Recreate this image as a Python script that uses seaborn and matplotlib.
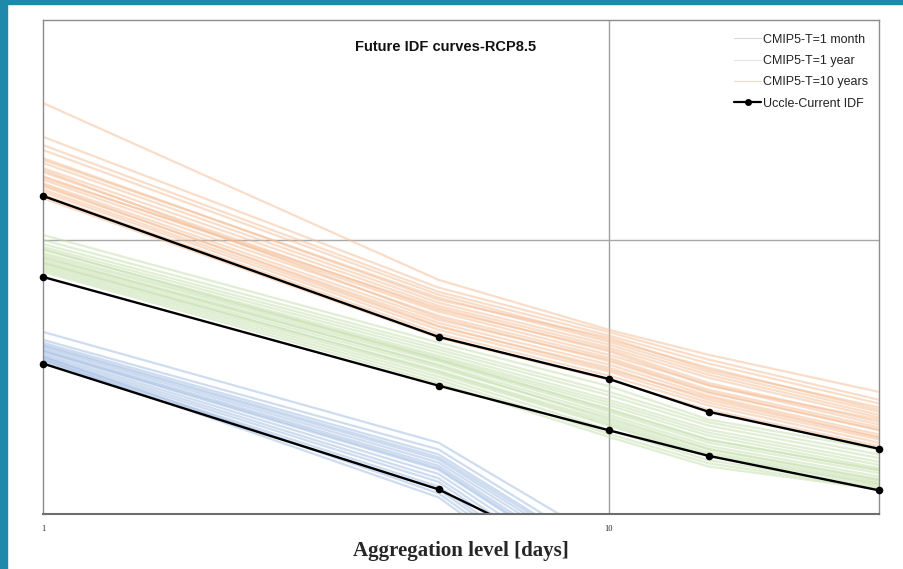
import pandas as pd
import matplotlib.pyplot as plt
import seaborn as sns
from matplotlib.lines import Line2D
from matplotlib.patches import Rectangle

# Aggregation levels (days)
durations = [1, 5, 10, 15, 30]

# Uccle current IDF (intensity)
uccle_1m = [0.354, 0.123, 0.0614, 0.045, 0.024]
uccle_1y = [0.733, 0.294, 0.202, 0.163, 0.122]
uccle_10y = [1.448, 0.443, 0.311, 0.236, 0.173]

# CMIP5 members, T = 10 years
cmip_10y = [
    [3.16, 0.715, 0.470, 0.381, 0.279],
    [2.38, 0.670, 0.461, 0.366, 0.261],
    [2.22, 0.647, 0.448, 0.354, 0.253],
    [2.13, 0.631, 0.432, 0.342, 0.240],
    [1.99, 0.605, 0.440, 0.336, 0.245],
    [1.91, 0.590, 0.415, 0.322, 0.230],
    [1.83, 0.575, 0.405, 0.314, 0.225],
    [1.77, 0.556, 0.398, 0.301, 0.217],
    [1.71, 0.547, 0.381, 0.296, 0.212],
    [1.66, 0.529, 0.372, 0.284, 0.207],
    [1.61, 0.511, 0.366, 0.279, 0.202],
    [1.57, 0.498, 0.351, 0.270, 0.195],
    [1.53, 0.482, 0.342, 0.261, 0.190],
    [1.50, 0.470, 0.331, 0.255, 0.187],
    [1.46, 0.455, 0.320, 0.249, 0.182],
    [1.42, 0.440, 0.309, 0.240, 0.177],
    [1.80, 0.520, 0.361, 0.277, 0.203],
    [1.69, 0.565, 0.392, 0.294, 0.221],
    [1.59, 0.486, 0.336, 0.266, 0.191],
    [1.96, 0.615, 0.425, 0.330, 0.236],
]

# CMIP5 members, T = 1 year
cmip_1y = [
    [1.043, 0.422, 0.293, 0.221, 0.172],
    [1.000, 0.408, 0.279, 0.216, 0.165],
    [0.967, 0.398, 0.271, 0.210, 0.160],
    [0.943, 0.388, 0.261, 0.203, 0.155],
    [0.920, 0.378, 0.255, 0.198, 0.151],
    [0.897, 0.372, 0.249, 0.193, 0.147],
    [0.882, 0.366, 0.242, 0.187, 0.144],
    [0.860, 0.360, 0.236, 0.182, 0.141],
    [0.846, 0.351, 0.230, 0.177, 0.137],
    [0.832, 0.342, 0.225, 0.173, 0.134],
    [0.818, 0.333, 0.217, 0.168, 0.131],
    [0.804, 0.325, 0.210, 0.162, 0.128],
    [0.791, 0.317, 0.203, 0.157, 0.126],
    [0.778, 0.309, 0.196, 0.153, 0.124],
    [0.765, 0.301, 0.191, 0.149, 0.123],
    [0.927, 0.366, 0.240, 0.186, 0.145],
    [0.868, 0.348, 0.221, 0.172, 0.133],
    [0.825, 0.330, 0.213, 0.165, 0.129],
]

# CMIP5 members, T = 1 month
cmip_1m = [
    [0.462, 0.182, 0.0780, 0.0528, 0.0293],
    [0.432, 0.172, 0.0709, 0.0486, 0.0248],
    [0.422, 0.165, 0.0680, 0.0462, 0.0237],
    [0.411, 0.158, 0.0647, 0.0440, 0.0228],
    [0.405, 0.154, 0.0625, 0.0425, 0.0218],
    [0.398, 0.150, 0.0599, 0.0411, 0.0210],
    [0.391, 0.145, 0.0574, 0.0394, 0.0202],
    [0.384, 0.140, 0.0546, 0.0378, 0.0194],
    [0.378, 0.135, 0.0519, 0.0359, 0.0186],
    [0.372, 0.131, 0.0494, 0.0347, 0.0177],
    [0.366, 0.126, 0.0470, 0.0330, 0.0170],
    [0.359, 0.123, 0.0447, 0.0319, 0.0163],
    [0.415, 0.161, 0.0669, 0.0455, 0.0232],
    [0.394, 0.147, 0.0584, 0.0404, 0.0206],
    [0.375, 0.119, 0.0429, 0.0306, 0.0157],
    [0.366, 0.115, 0.0411, 0.0293, 0.0150],
]

labels = ["CMIP5-T=1 month", "CMIP5-T=1 year", "CMIP5-T=10 years"]
colors = {"CMIP5-T=1 month": "#9fbae2",
          "CMIP5-T=1 year": "#c2dea9",
          "CMIP5-T=10 years": "#f5bd94"}

# long-form table of all ensemble members
rows = []
for lab, members in zip(labels, [cmip_1m, cmip_1y, cmip_10y]):
    for i, vals in enumerate(members):
        for d, v in zip(durations, vals):
            rows.append({"group": lab, "member": i, "duration": d, "value": v})
ens = pd.DataFrame(rows)

uccle = pd.DataFrame({
    "duration": durations * 3,
    "value": uccle_1m + uccle_1y + uccle_10y,
    "T": ["1m"] * 5 + ["1y"] * 5 + ["10y"] * 5,
})

sns.set_theme(style="white")

fig = plt.figure(figsize=(9.04, 5.69), dpi=100)
fig.patch.set_facecolor("white")
ax = fig.add_axes([43 / 904, 1 - 514 / 569, 836 / 904, 494 / 569])

# teal frame on top and left
fig.patches.append(Rectangle((0, 1 - 4 / 569), 1, 4 / 569, transform=fig.transFigure,
                             color="#1f89ab", zorder=0))
fig.patches.append(Rectangle((0, 0), 7 / 904, 1, transform=fig.transFigure,
                             color="#1f89ab", zorder=0))

ax.set_xscale("log")
ax.set_yscale("log")

# reference grid lines
ax.axhline(1, color="#a8a8a8", linewidth=1, zorder=0.5)
ax.axvline(10, color="#a0a0a0", linewidth=1, zorder=0.5)

sns.lineplot(data=ens, x="duration", y="value", hue="group", units="member",
             estimator=None, palette=colors, linewidth=1.6, alpha=0.5,
             legend=False, ax=ax)
sns.lineplot(data=uccle, x="duration", y="value", units="T", estimator=None,
             color="black", linewidth=1.7, legend=False, ax=ax)
# markers inside the visible range, not clipped at the frame
pts = uccle[uccle["value"] >= 0.1]
sns.scatterplot(data=pts, x="duration", y="value", color="black", s=30,
                linewidth=0, legend=False, ax=ax, clip_on=False, zorder=5)

ax.set_xlim(1, 30)
ax.set_ylim(0.1, 6.35)

ax.set_xticks([1, 10])
ax.set_xticklabels(["1", "10"], fontsize=6, family="Liberation Serif")
ax.xaxis.set_minor_locator(plt.NullLocator())
ax.yaxis.set_minor_locator(plt.NullLocator())
ax.set_yticks([])
ax.tick_params(axis="x", length=0, pad=8)

ax.set_xlabel("Aggregation level [days]", fontsize=15, fontweight="bold",
              family="Liberation Serif", labelpad=6)
ax.set_ylabel("")

for side in ["top", "right", "left"]:
    ax.spines[side].set_color("#8c8c8c")
    ax.spines[side].set_linewidth(1)
ax.spines["bottom"].set_color("#6e6e6e")
ax.spines["bottom"].set_linewidth(1.5)

ax.text(0.482, 0.945, "Future IDF curves-RCP8.5", transform=ax.transAxes,
        ha="center", va="center", fontsize=10.5, fontweight="bold",
        family="Liberation Sans", color="#111111")

handles = [Line2D([], [], color="#d9d9d9", linewidth=0.8),
           Line2D([], [], color="#e4e4e4", linewidth=0.8),
           Line2D([], [], color="#f3d9c8", linewidth=0.8),
           Line2D([], [], color="black", linewidth=1.6, marker="o", markersize=4)]
ax.legend(handles, ["CMIP5-T=1 month", "CMIP5-T=1 year", "CMIP5-T=10 years",
                    "Uccle-Current IDF"],
          loc="upper right", bbox_to_anchor=(1.0, 0.995), frameon=False,
          prop={"family": "Liberation Sans", "size": 9},
          labelspacing=0.75, handlelength=2.2, handletextpad=0.1,
          labelcolor="#222222")

plt.savefig("out.png", dpi=100)
